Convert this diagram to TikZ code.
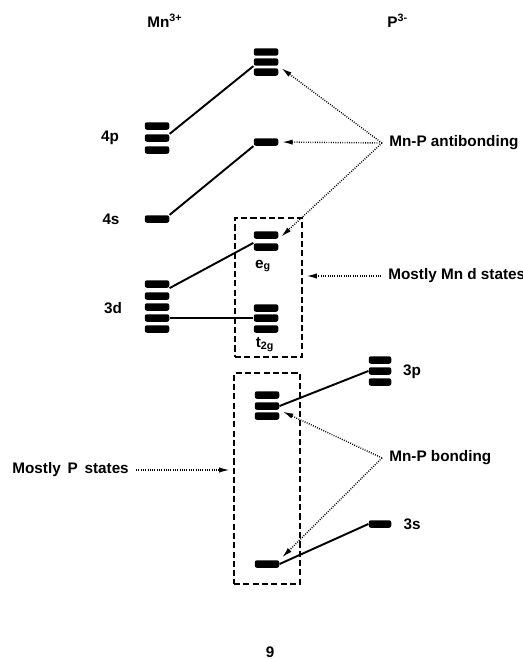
\documentclass[tikz,border=0pt]{standalone}
\usepackage{fontspec}
\setmainfont{Liberation Sans}
\usetikzlibrary{arrows.meta}
\tikzset{
  lvl/.style={fill,rounded corners=1.2pt,inner sep=0,minimum width=.49cm,minimum height=.15cm},
  plvl/.style={lvl,minimum width=.45cm},
  lab/.style={font=\fontsize{8.7}{10}\selectfont\bfseries,inner sep=0},
  tag/.style={lab,inner sep=4pt},
  tie/.style={line width=1.1pt},
  dotarr/.style={line width=.8pt,dash pattern=on .5pt off .8pt,shorten >=2pt,-{Latex[length=6pt,width=3pt]}},
  dbox/.style={draw,line width=1pt,dash pattern=on 3.5pt off 1.8pt,inner sep=0}
}
\begin{document}
\begin{tikzpicture}[x=.02cm,y=-.02cm]
\useasboundingbox (0,0) rectangle (523,659);
\node[lab,anchor=base west] (mn) at (147,28) {Mn\textsuperscript{3+}};
\node[lab,anchor=base west] (pp) at (387,28) {P\textsuperscript{3-}};
\foreach \y [count=\i] in {126,138,150} \node[lvl] (p\i) at (157,\y) {};
\node[lvl] (s4) at (157,219) {};
\foreach \y [count=\i] in {284,296,307,318,329} \node[lvl] (d\i) at (157,\y) {};
\node[lab] (l4p) at (110,138) {4p};
\node[lab] (l4s) at (111,219) {4s};
\node[lab] (l3d) at (113,308) {3d};
\foreach \y [count=\i] in {52,62,72} \node[lvl] (a\i) at (266,\y) {};
\node[lvl] (ab) at (266,142) {};
\foreach \y [count=\i] in {235,247} \node[lvl] (eg\i) at (266,\y) {};
\foreach \y [count=\i] in {308,318,329} \node[lvl] (t\i) at (266,\y) {};
\foreach \y [count=\i] in {395,406,416} \node[lvl] (b\i) at (267,\y) {};
\node[lvl] (bs) at (267,564) {};
\foreach \y [count=\i] in {360,371,382} \node[plvl] (q\i) at (380,\y) {};
\node[plvl] (qs) at (380,524) {};
\node[lab] (l3p) at (412,372) {3p};
\node[lab] (l3s) at (412,524) {3s};
\node[lab] (leg) at (263,266) {e\textsubscript{g}};
\node[lab] (lt) at (265,345) {t\textsubscript{2g}};
\node[dbox,minimum width=1.34cm,minimum height=2.78cm] (boxd) at (268.5,287.5) {};
\node[dbox,minimum width=1.32cm,minimum height=4.22cm] (boxp) at (267,478.5) {};
\node[tag,anchor=west] (anti) at (382,143) {Mn-P antibonding};
\node[tag,anchor=west] (mnd) at (381,276) {Mostly Mn d states};
\node[tag,anchor=west] (bond) at (382,458) {Mn-P bonding};
\node[tag,anchor=west] (pst) at (5,470) {Mostly\ \,P\ \,states};
\node[lab] (num) at (270,652) {9};
\draw[tie] (p2.north east) -- (a2.south west);
\draw[tie] (s4.north east) -- (ab.south west);
\draw[tie] (d1.south east) -- (eg2.north west);
\draw[tie] (d4.east) -- (t2.west);
\draw[tie] (q2.west) -- (b2.east);
\draw[tie] (qs.west) -- (bs.east);
\draw[dotarr] (anti.west) -- (a2.south east);
\draw[dotarr] (anti.west) -- (ab.east);
\draw[dotarr] (anti.west) -- (eg1.south east);
\draw[dotarr] (mnd.west) -- (mnd.west -| boxd.east);
\draw[dotarr] (bond.west) -- (b2.south east);
\draw[dotarr] (bond.west) -- (bs.north east);
\draw[dotarr] (pst.east) -- (pst.east -| boxp.west);
\end{tikzpicture}
\end{document}
